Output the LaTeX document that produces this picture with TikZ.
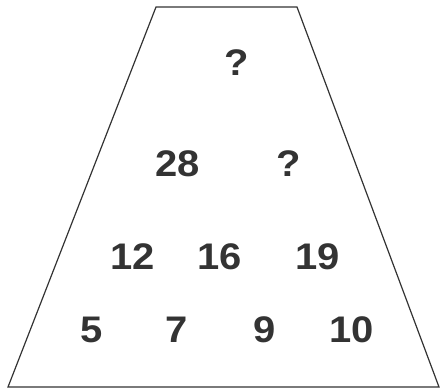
\documentclass[tikz,border=0pt]{standalone}
\usepackage{fontspec}
\setmainfont{Liberation Sans}
\definecolor{numgray}{HTML}{333333}
\begin{document}
\begin{tikzpicture}[x=1pt,y=-1pt,
  num/.style={font=\fontsize{37}{37}\selectfont\bfseries, text=numgray, inner sep=0pt, anchor=center, xscale=1.08}]
\useasboundingbox (0,0) rectangle (442,389);
\draw[line width=1.2pt, color=numgray, line join=miter] (156,7) -- (297,7) -- (439,387) -- (8,387) -- cycle;
\node[num] (q1) at (237,63) {?};
\node[num] (n28) at (178,164) {28};
\node[num] (q2) at (289,164) {?};
\node[num] (n12) at (133,257) {12};
\node[num] (n16) at (220,257) {16};
\node[num] (n19) at (318,257) {19};
\node[num] (n5) at (92,330) {5};
\node[num] (n7) at (177,330) {7};
\node[num] (n9) at (265,330) {9};
\node[num] (n10) at (352,330) {10};
\end{tikzpicture}
\end{document}
